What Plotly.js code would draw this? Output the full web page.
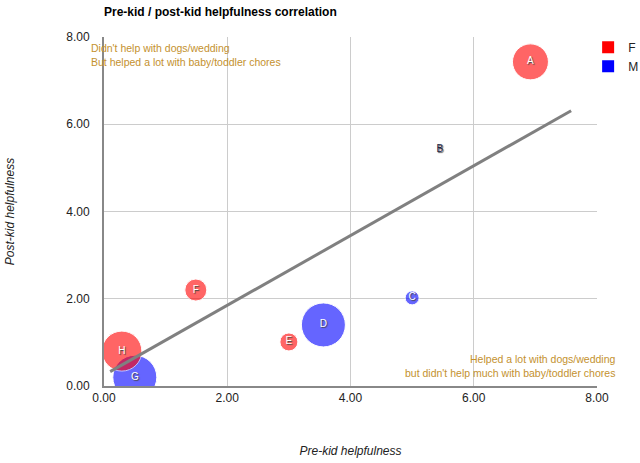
<!DOCTYPE html>
<html>
<head>
<meta charset="utf-8">
<script src="https://cdn.plot.ly/plotly-3.0.1.min.js"></script>
<style>
  body { margin: 0; background: #fff; }
  #chart { width: 640px; height: 463px; }
</style>
</head>
<body>
<div id="chart"></div>
<script>
// women
var fLabels = ['A', 'E', 'F', 'H'];
var fPre = [6.92, 3.0, 1.49, 0.29];
var fPost = [7.43, 1.01, 2.2, 0.8];
var fSize = [36, 18, 22, 40];

// men
var mLabels = ['B', 'C', 'D', 'G'];
var mPre = [5.45, 5.0, 3.56, 0.5];
var mPost = [5.41, 2.02, 1.4, 0.2];
var mSize = [2, 14, 44, 44];

// trend line end points
var trendX = [0.1, 7.58];
var trendY = [0.33, 6.31];

var font = 'Liberation Sans, Arial, sans-serif';
var noteColor = '#c4912e';

function labelColors(labels) {
  var c = [];
  for (var i = 0; i < labels.length; i++) {
    c.push(labels[i] === 'B' ? '#222244' : '#ffffff');
  }
  return c;
}

var men = {
  x: mPre, y: mPost, text: mLabels,
  mode: 'markers+text', type: 'scatter', name: 'M', showlegend: false,
  textposition: 'middle center',
  textfont: { family: font, size: 10, color: labelColors(mLabels), shadow: '1px 1px 1px #444' },
  marker: { size: mSize, color: '#0000ff', opacity: 0.6, line: { color: '#ffffff', width: 1 } },
  hoverinfo: 'text'
};

var women = {
  x: fPre, y: fPost, text: fLabels,
  mode: 'markers+text', type: 'scatter', name: 'F', showlegend: false,
  textposition: 'middle center',
  textfont: { family: font, size: 10, color: labelColors(fLabels), shadow: '1px 1px 1px #444' },
  marker: { size: fSize, color: '#ff0000', opacity: 0.6, line: { color: '#ffffff', width: 1 } },
  hoverinfo: 'text'
};

var trend = {
  x: trendX, y: trendY, mode: 'lines', type: 'scatter', showlegend: false,
  line: { color: '#808080', width: 3 }, hoverinfo: 'skip'
};

// legend entries
var legF = { x: [null], y: [null], mode: 'markers', type: 'scatter', name: 'F',
  marker: { symbol: 'square', size: 12, color: '#ff0000' } };
var legM = { x: [null], y: [null], mode: 'markers', type: 'scatter', name: 'M',
  marker: { symbol: 'square', size: 12, color: '#0000ff' } };

var layout = {
  width: 640, height: 463,
  margin: { l: 104, r: 43, t: 37, b: 77, autoexpand: false },
  paper_bgcolor: '#fff', plot_bgcolor: '#fff',
  font: { family: font, size: 12, color: '#222' },
  title: {
    text: '<b>Pre-kid / post-kid helpfulness correlation</b>',
    font: { family: font, size: 12, color: '#000' },
    xref: 'paper', x: 0, xanchor: 'left',
    yref: 'container', y: 0.974, yanchor: 'middle'
  },
  xaxis: {
    range: [0, 8], dtick: 2, tickformat: '.2f',
    showgrid: true, gridcolor: '#cccccc', zeroline: false,
    showline: true, linecolor: '#888888', linewidth: 2,
    ticks: '', tickfont: { size: 12, color: '#222' },
    title: { text: '<i>Pre-kid helpfulness</i>', font: { size: 12, color: '#222' }, standoff: 42 }
  },
  yaxis: {
    range: [0, 8], dtick: 2, tickformat: '.2f',
    showgrid: true, gridcolor: '#cccccc', zeroline: false,
    showline: true, linecolor: '#888888', linewidth: 2,
    ticks: '', ticklabelstandoff: 10, tickfont: { size: 12, color: '#222' },
    title: { text: '<i>Post-kid helpfulness</i>', font: { size: 12, color: '#222' }, standoff: 49 }
  },
  legend: {
    x: 0.982, y: 1.012, xanchor: 'left', yanchor: 'top',
    font: { size: 12, color: '#222' }, tracegroupgap: 0, itemwidth: 30
  },
  annotations: [
    {
      xref: 'paper', yref: 'paper', x: -0.03, y: 0.99, xanchor: 'left', yanchor: 'top',
      align: 'left', showarrow: false,
      text: "Didn't help with dogs/wedding<br>But helped a lot with baby/toddler chores",
      font: { size: 10.5, color: noteColor }
    },
    {
      xref: 'paper', yref: 'paper', x: 1.043, y: 0.015, xanchor: 'right', yanchor: 'bottom',
      align: 'right', showarrow: false,
      text: "Helped a lot with dogs/wedding<br>but didn't help much with baby/toddler chores",
      font: { size: 10.5, color: noteColor }
    }
  ]
};

Plotly.newPlot('chart', [men, women, trend, legF, legM], layout, { displayModeBar: false, staticPlot: true });
</script>
</body>
</html>
